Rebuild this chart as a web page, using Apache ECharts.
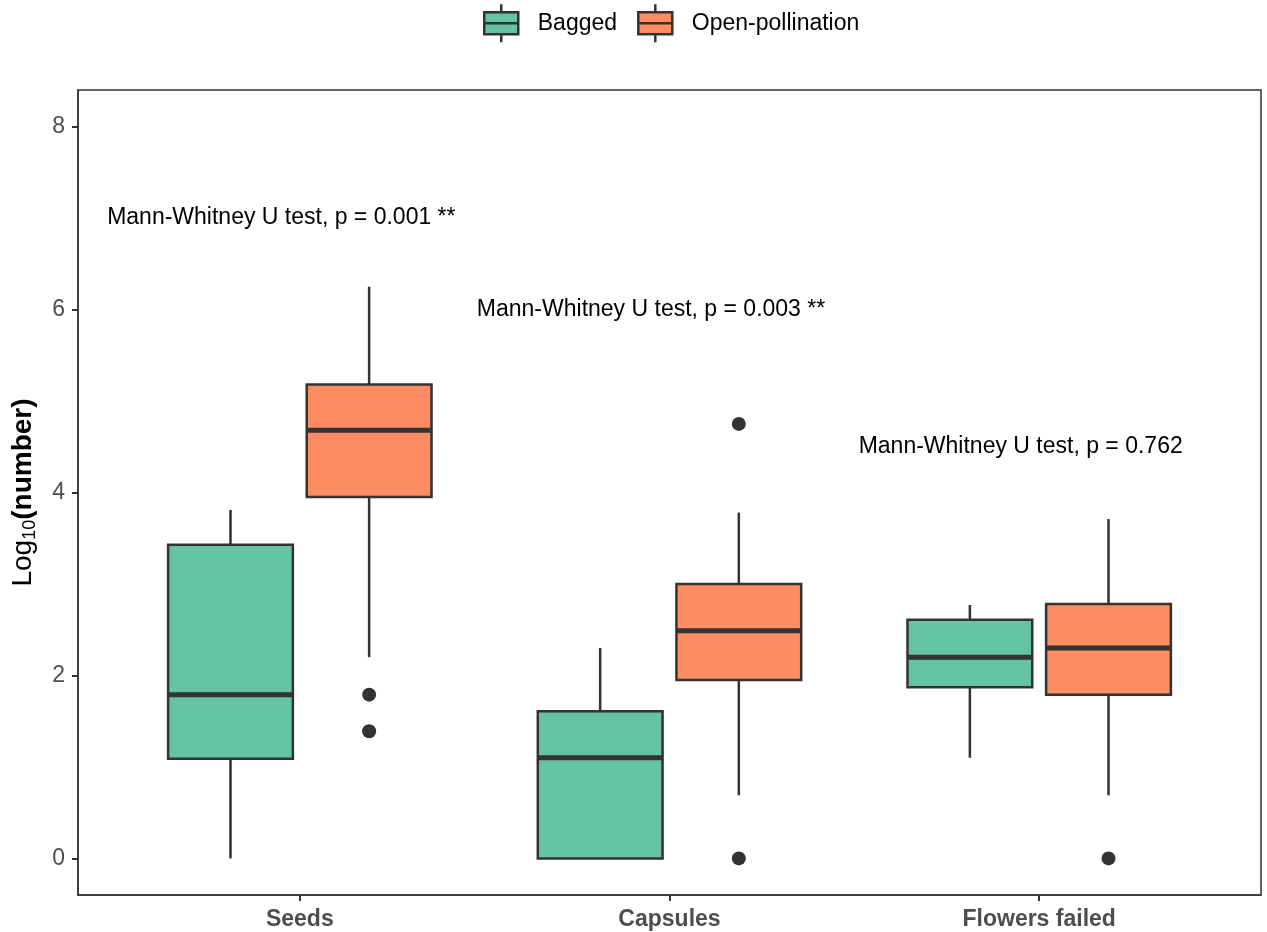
<!DOCTYPE html>
<html><head><meta charset="utf-8">
<script src="https://cdn.jsdelivr.net/npm/echarts@6/dist/echarts.min.js"></script>
<style>html,body{margin:0;padding:0;background:#fff}#c{width:1267px;height:932px}</style>
</head><body><div id="c"></div>
<script>
// ---- data ----
const categories = ['Seeds', 'Capsules', 'Flowers failed'];
const groupNames = ['Bagged', 'Open-pollination'];
// box stats per category: [lower whisker, Q1, median, Q3, upper whisker]
const baggedStats = [
  [0.00, 1.09, 1.79, 3.43, 3.81],
  [0.00, 0.00, 1.10, 1.61, 2.30],
  [1.10, 1.87, 2.20, 2.61, 2.77]
];
const openStats = [
  [2.20, 3.95, 4.68, 5.18, 6.25],
  [0.69, 1.95, 2.49, 3.00, 3.78],
  [0.69, 1.79, 2.30, 2.78, 3.71]
];
// outliers: [category index, value]
const baggedOutliers = [];
const openOutliers = [[0, 1.79], [0, 1.39], [1, 4.75], [1, 0.00], [2, 0.00]];
// test annotations
const annotationTexts = [
  'Mann-Whitney U test, p = 0.001 **',
  'Mann-Whitney U test, p = 0.003 **',
  'Mann-Whitney U test, p = 0.762'
];
const annotationX = [0.95, 1.95, 2.95];
const annotationY = [7.0, 6.0, 4.5];
const yTicks = [0, 2, 4, 6, 8];

// ---- style / layout ----
const FONT = '"Liberation Sans", Arial, sans-serif';
const COLORS = ['#66C2A5', '#FC8D62'];
const DARK = '#333333';
const BOX_W = 0.3375;   // box width in x-axis units
const DODGE = 0.1875;   // dodge offset in x-axis units

function boxSeries(name, stats, color, dodge) {
  return {
    type: 'custom', name: name,
    itemStyle: { color: color },
    encode: { x: 0, y: [1, 2, 3, 4, 5] },
    data: stats.map((s, i) => [i + 1].concat(s)),
    renderItem: function (params, api) {
      const x = api.value(0) + dodge;
      const cx = api.coord([x, 0])[0];
      const w = api.size([BOX_W, 0])[0];
      const yMin = api.coord([x, api.value(1)])[1];
      const yQ1 = api.coord([x, api.value(2)])[1];
      const yMed = api.coord([x, api.value(3)])[1];
      const yQ3 = api.coord([x, api.value(4)])[1];
      const yMax = api.coord([x, api.value(5)])[1];
      const ls = { stroke: DARK, lineWidth: 2.5 };
      return {
        type: 'group', children: [
          { type: 'line', shape: { x1: cx, y1: yMax, x2: cx, y2: yQ3 }, style: ls },
          { type: 'line', shape: { x1: cx, y1: yQ1, x2: cx, y2: yMin }, style: ls },
          { type: 'rect', shape: { x: cx - w / 2, y: yQ3, width: w, height: yQ1 - yQ3 },
            style: { fill: color, stroke: DARK, lineWidth: 2.5 } },
          { type: 'line', shape: { x1: cx - w / 2, y1: yMed, x2: cx + w / 2, y2: yMed },
            style: { stroke: DARK, lineWidth: 5 } }
        ]
      };
    }
  };
}

function outlierSeries(name, pts, dodge) {
  return {
    type: 'custom', name: name,
    encode: { x: 0, y: 1 },
    data: pts.map(p => [p[0] + 1, p[1]]),
    renderItem: function (params, api) {
      const c = api.coord([api.value(0) + dodge, api.value(1)]);
      return { type: 'circle', shape: { cx: c[0], cy: c[1], r: 7 }, style: { fill: DARK } };
    }
  };
}

const annotationSeries = {
  type: 'custom', name: 'annotations', silent: true,
  encode: { x: 0, y: 1 },
  data: annotationTexts.map((t, i) => [annotationX[i], annotationY[i], t]),
  renderItem: function (params, api) {
    const c = api.coord([api.value(0), api.value(1)]);
    return {
      type: 'text', x: c[0], y: c[1],
      style: { text: annotationTexts[params.dataIndex], fill: '#000', fontSize: 23,
        fontFamily: FONT, align: 'center', verticalAlign: 'middle' }
    };
  }
};

const legendIcon = 'path://M17,0L17,8M0,8L34,8L34,30L0,30ZM0,19L34,19M17,30L17,38';

const chart = echarts.init(document.getElementById('c'), null, { renderer: 'canvas' });
chart.setOption({
  animation: false,
  backgroundColor: '#fff',
  legend: {
    top: -2, left: 478,
    data: groupNames.map(n => ({ name: n, icon: legendIcon })),
    itemWidth: 35, itemHeight: 38, itemGap: 20,
    itemStyle: { borderColor: DARK, borderWidth: 2.5 },
    textStyle: { fontSize: 23, fontFamily: FONT, color: '#000', padding: [0, 0, 0, 14] },
    selectedMode: false
  },
  grid: {
    left: 78, top: 90, width: 1183, height: 805,
    show: true, borderColor: DARK, borderWidth: 1.5, backgroundColor: '#fff',
    containLabel: false
  },
  xAxis: {
    type: 'value', min: 0.4, max: 3.6,
    axisLine: { show: true, onZero: false, lineStyle: { color: DARK, width: 1.5 } },
    axisTick: { show: true, length: 6, customValues: [1, 2, 3], lineStyle: { color: DARK, width: 2 } },
    axisLabel: {
      customValues: [1, 2, 3], margin: 13,
      formatter: v => categories[Math.round(v) - 1] || '',
      fontSize: 23, fontWeight: 'bold', fontFamily: FONT, color: '#4D4D4D'
    },
    splitLine: { show: false }
  },
  yAxis: {
    type: 'value', min: -0.4, max: 8.4,
    name: '{a|Log}{s|10}{b|(number)}',
    nameLocation: 'middle', nameRotate: 90, nameGap: 39,
    nameTextStyle: {
      rich: {
        a: { fontSize: 28, fontFamily: FONT, color: '#000', lineHeight: 32 },
        s: { fontSize: 18, fontFamily: FONT, color: '#000', verticalAlign: 'bottom', lineHeight: 20 },
        b: { fontSize: 28, fontFamily: FONT, fontWeight: 'bold', color: '#000', lineHeight: 32 }
      }
    },
    axisLine: { show: true, lineStyle: { color: DARK, width: 1.5 } },
    axisTick: { show: true, length: 6, customValues: yTicks, lineStyle: { color: DARK, width: 2 } },
    axisLabel: {
      customValues: yTicks, margin: 13,
      fontSize: 23, fontFamily: FONT, color: '#4D4D4D'
    },
    splitLine: { show: false }
  },
  series: [
    boxSeries(groupNames[0], baggedStats, COLORS[0], -DODGE),
    boxSeries(groupNames[1], openStats, COLORS[1], DODGE),
    outlierSeries(groupNames[0], baggedOutliers, -DODGE),
    outlierSeries(groupNames[1], openOutliers, DODGE),
    annotationSeries
  ]
});
</script>
</body></html>
